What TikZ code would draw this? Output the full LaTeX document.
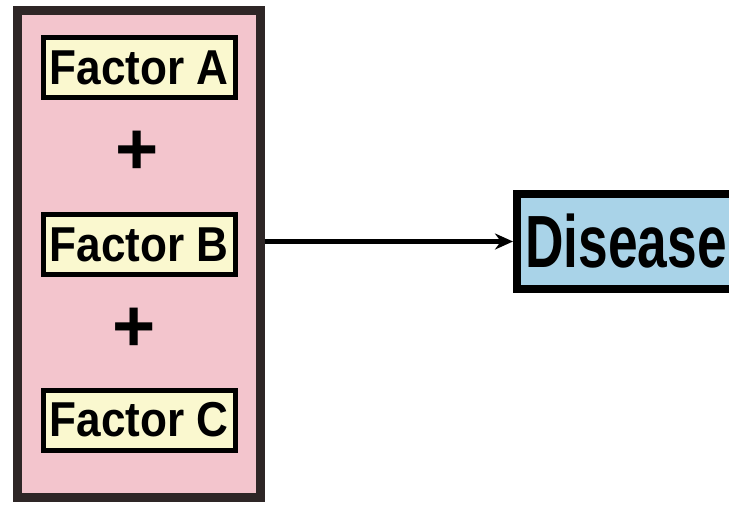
\documentclass[tikz,border=0pt]{standalone}
\usepackage{fontspec}
\setmainfont{Liberation Sans}
\usepackage{tikz}
\usetikzlibrary{arrows.meta}
\definecolor{groupfill}{HTML}{F3C5CD}
\definecolor{groupline}{HTML}{2E2626}
\definecolor{factorfill}{HTML}{FAF8CF}
\definecolor{diseasefill}{HTML}{A9D3E8}
\tikzstyle{group}=[draw=groupline, line width=9pt, fill=groupfill, minimum width=243pt, minimum height=487pt, inner sep=0pt]
\tikzstyle{factor}=[draw=black, line width=5pt, fill=factorfill, minimum width=192pt, minimum height=60pt, inner sep=0pt, font=\bfseries\fontsize{49}{49}\selectfont]
\tikzstyle{plus}=[inner sep=0pt, font=\bfseries\fontsize{74}{74}\selectfont]
\tikzstyle{disease}=[draw=black, line width=8pt, fill=diseasefill, minimum width=218pt, minimum height=95pt, inner sep=0pt, font=\bfseries\fontsize{74}{74}\selectfont]
\tikzstyle{arrow}=[line width=5pt, -{Stealth[length=18pt,width=16pt]}]

\begin{document}
\begin{tikzpicture}[x=1pt,y=-1pt]
\useasboundingbox (0,0) rectangle (729,506);
\node[group] (group) at (138.5,254) {};
\foreach \n/\y/\lab in {A/67.5/Factor A, B/244.5/Factor B, C/420/Factor C} {
 \node[factor] (fac\n) at (139,\y) {\scalebox{0.9}[1]{\lab}};
}
\node[plus] (plus1) at (137,153) {+};
\node[plus] (plus2) at (134,330) {+};
\node[disease] (disease) at (626,241.5) {\scalebox{0.72}[1]{Disease}};
\draw[arrow] (group.east |- disease.west) -- (disease.west);
\end{tikzpicture}
\end{document}
